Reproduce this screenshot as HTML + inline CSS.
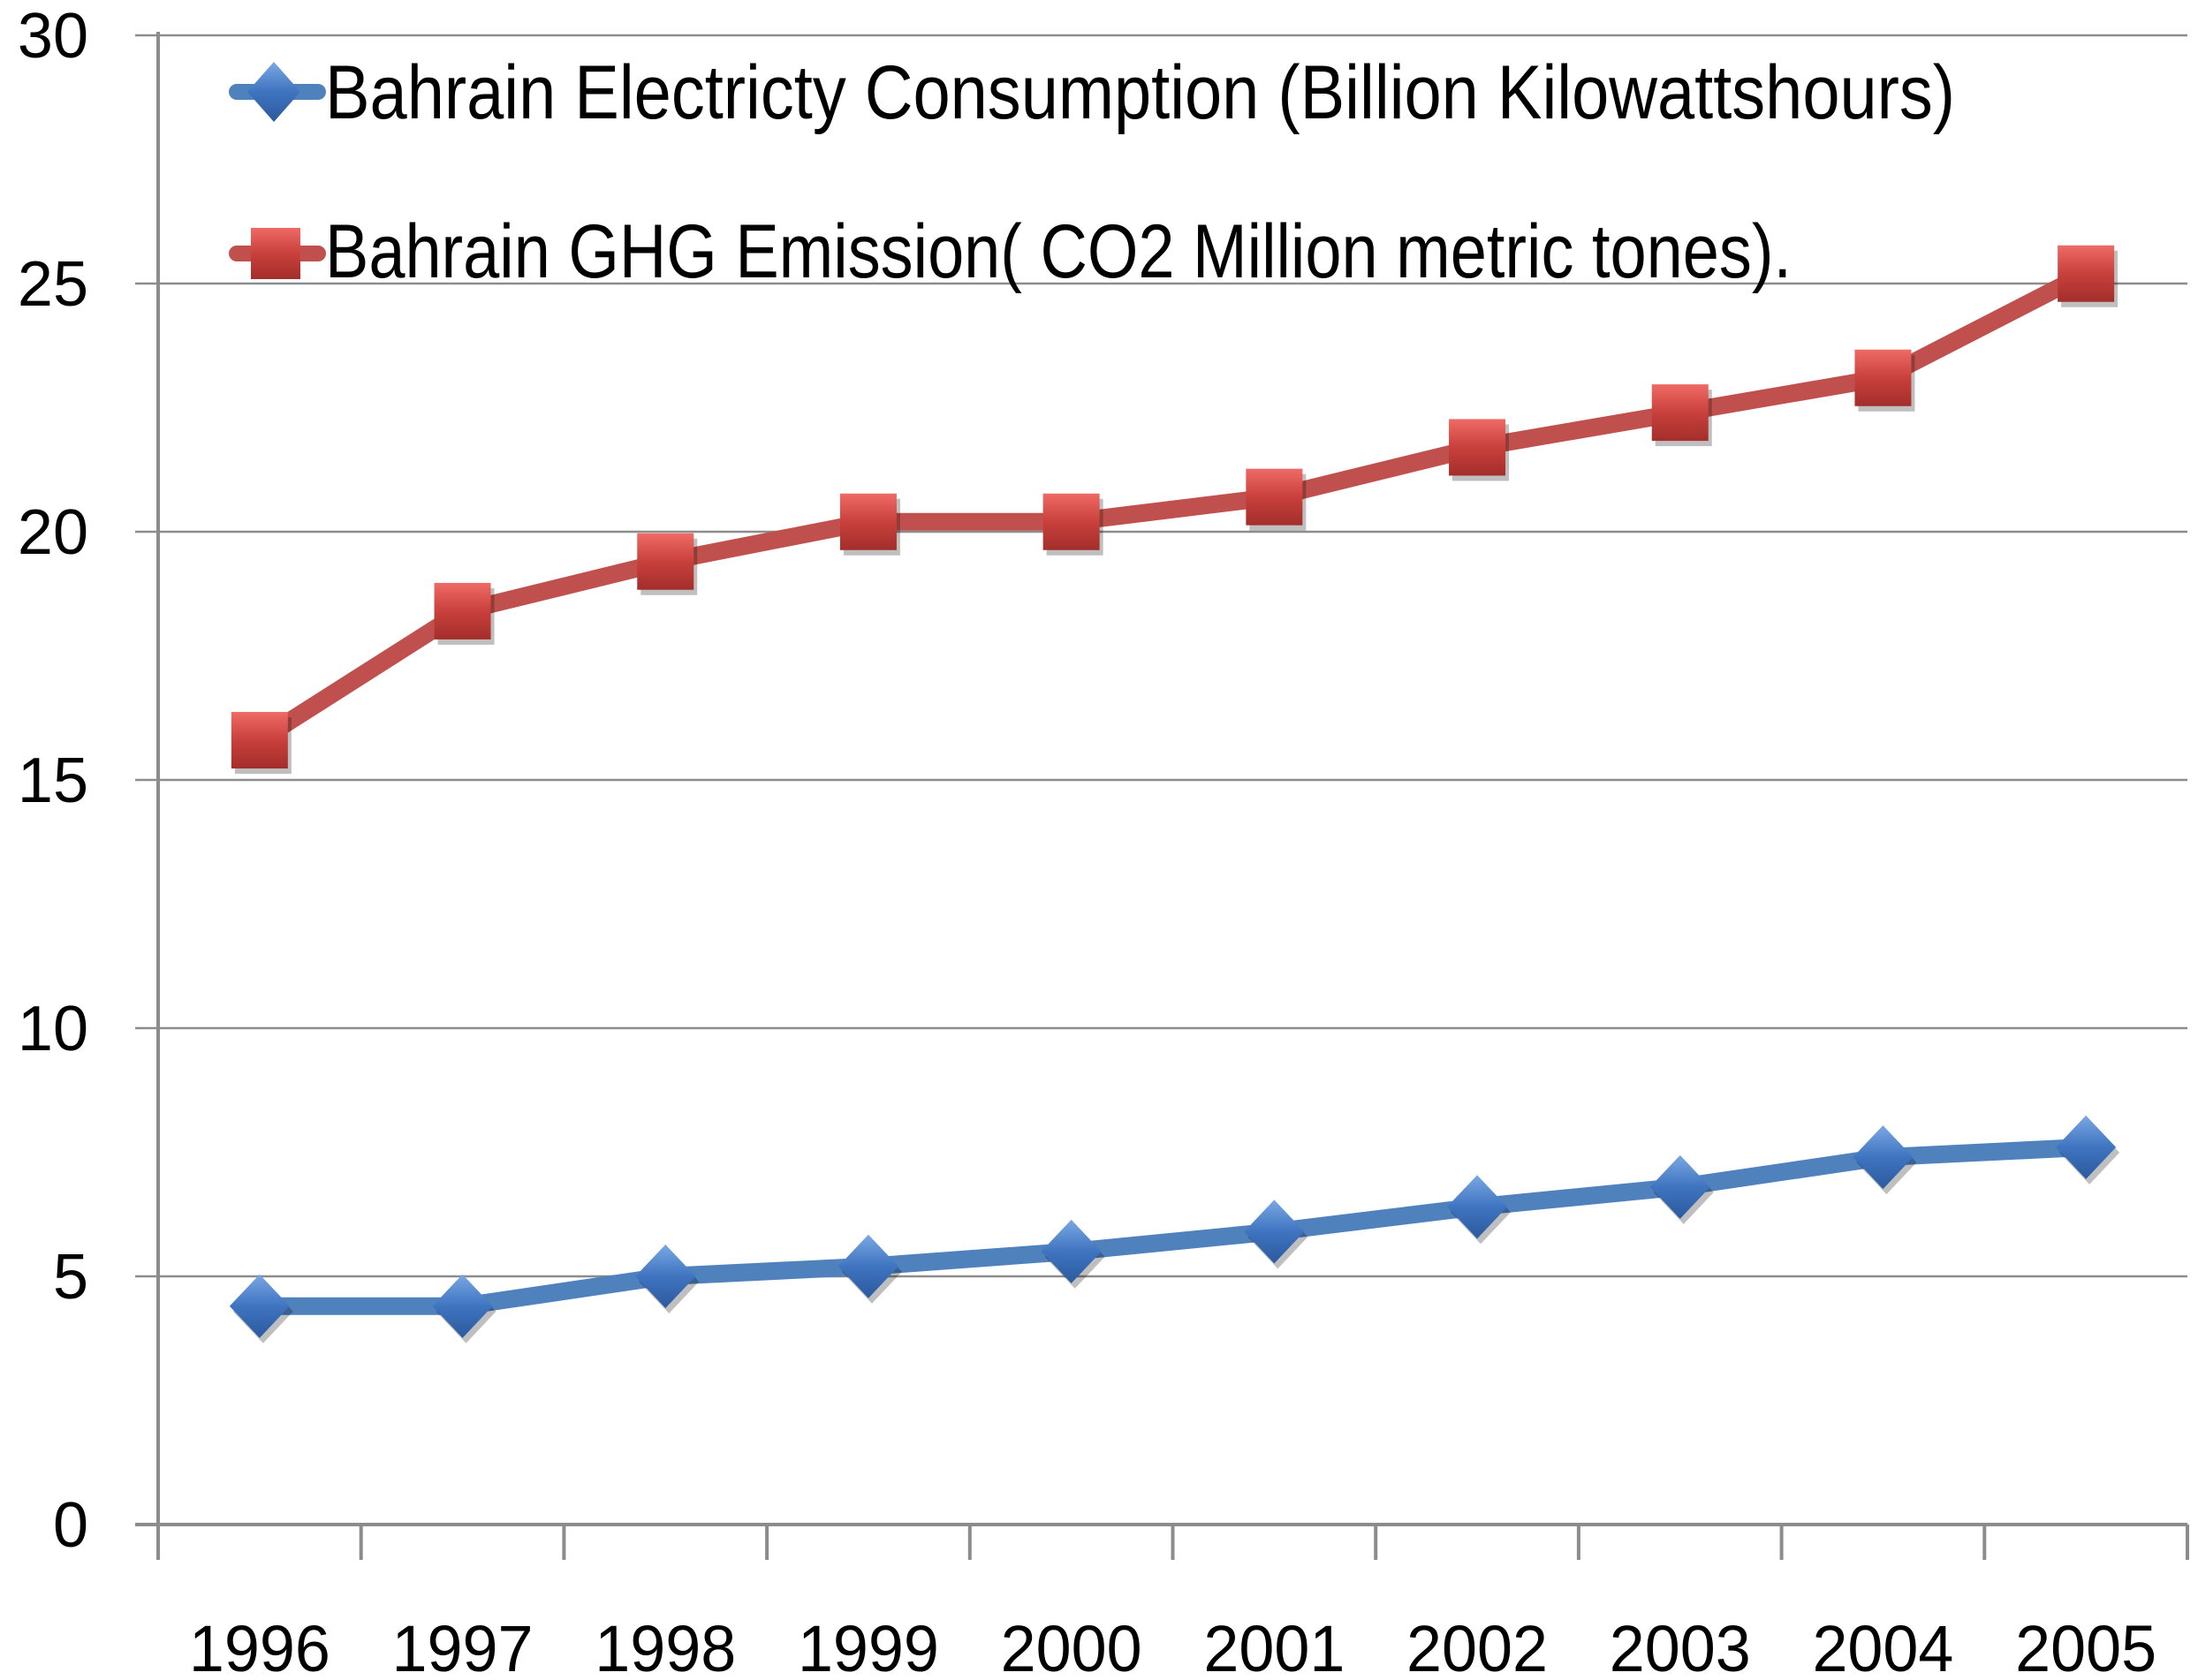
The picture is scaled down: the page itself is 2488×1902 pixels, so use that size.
<!DOCTYPE html>
<html><head><meta charset="utf-8"><style>
html,body{margin:0;padding:0;background:#fff;}
svg{display:block;font-family:"Liberation Sans",sans-serif;}
</style></head><body>
<svg id="chart" width="2488" height="1902" viewBox="0 0 2488 1902" xmlns="http://www.w3.org/2000/svg">
<defs>
<linearGradient id="gRed" x1="0" y1="0" x2="0" y2="1"><stop offset="0" stop-color="#ef6b66"/><stop offset="0.5" stop-color="#c9403c"/><stop offset="1" stop-color="#a32e2b"/></linearGradient>
<linearGradient id="gBlue" x1="0" y1="0" x2="0" y2="1"><stop offset="0" stop-color="#7aa8e4"/><stop offset="0.5" stop-color="#3f74c0"/><stop offset="1" stop-color="#2b5a9e"/></linearGradient>
</defs>
<g id="grid"></g>
<g id="axes"></g>
<g id="series"></g>
<g>
  <g>
    <line x1="268" y1="104" x2="360" y2="104" stroke="#4f81bd" stroke-width="18" stroke-linecap="round"/>
    <path d="M310 70 L340 104 L310 138 L280 104 Z" fill="url(#gBlue)"/>
    <text x="368" y="134" font-size="86" fill="#000" textLength="1845" lengthAdjust="spacingAndGlyphs">Bahrain Electricty Consumption (Billion Kilowattshours)</text>
  </g>
  <g>
    <line x1="268" y1="287" x2="360" y2="287" stroke="#c0504d" stroke-width="18" stroke-linecap="round"/>
    <rect x="284" y="258" width="56" height="58" fill="url(#gRed)"/>
    <text x="368" y="314" font-size="86" fill="#000" textLength="1660" lengthAdjust="spacingAndGlyphs">Bahrain GHG Emission( CO2 Million metric tones).</text>
  </g>
</g>
</svg>
<script>
const categories = ["1996","1997","1998","1999","2000","2001","2002","2003","2004","2005"];
const ghgValues = [15.8,18.4,19.4,20.2,20.2,20.7,21.7,22.4,23.1,25.2];
const elecValues = [4.4,4.4,5.0,5.2,5.5,5.9,6.4,6.8,7.4,7.6];
const yTicks = [0,5,10,15,20,25,30];

const NS = "http://www.w3.org/2000/svg";
const X0 = 179, X1 = 2476, Y0 = 1726, Y1 = 40, YMAX = 30;
const step = (X1 - X0) / categories.length;
function xPos(i){ return X0 + step * (i + 0.5); }
function yPos(v){ return Y0 - (v / YMAX) * (Y0 - Y1); }
function mk(tag, attrs, parent){ const e = document.createElementNS(NS, tag); for (const k in attrs) e.setAttribute(k, attrs[k]); parent.appendChild(e); return e; }

const grid = document.getElementById('grid');
const axes = document.getElementById('axes');
const series = document.getElementById('series');

yTicks.forEach(t => {
  const y = yPos(t);
  const l = mk('line', {x1: X0 - 26, y1: y, x2: X1, y2: y, stroke: '#8c8c8c', 'stroke-width': t === 0 ? 4 : 2.5}, grid);
  
  
  const tx = mk('text', {x: 100, y: y + 25, 'font-size': 72, 'text-anchor': 'end', fill: '#000'}, axes);
  tx.textContent = t;
  
  
});
const ya = mk('line', {x1: X0, y1: Y1 - 4, x2: X0, y2: Y0 + 40, stroke: '#8c8c8c', 'stroke-width': 4}, axes);


for (let i = 0; i <= categories.length; i++) {
  const x = X0 + step * i;
  const tk = mk('line', {x1: x, y1: Y0, x2: x, y2: Y0 + 40, stroke: '#8c8c8c', 'stroke-width': 4}, axes);
  
  
}
categories.forEach((c, i) => {
  const tx = mk('text', {x: xPos(i), y: 1892, 'font-size': 74, 'text-anchor': 'middle', fill: '#000', textLength: 160, lengthAdjust: 'spacingAndGlyphs'}, axes);
  tx.textContent = c;
  
  
});

function drawSeries(vals, color, name, shape){
  const pts = vals.map((v, i) => xPos(i) + ',' + yPos(v)).join(' ');
  const pl = mk('polyline', {points: pts, fill: 'none', stroke: color, 'stroke-width': 20, 'stroke-linejoin': 'round'}, series);
  
  
  vals.forEach((v, i) => {
    const x = xPos(i), y = yPos(v);
    let m;
    if (shape === 'square') {
      mk('rect', {x: x - 28, y: y - 26, width: 64, height: 64, fill: '#000', opacity: 0.25}, series);
      m = mk('rect', {x: x - 32, y: y - 32, width: 64, height: 64, fill: 'url(#gRed)'}, series);
    } else {
      mk('path', {d: `M${x+4} ${y-30} L${x+38} ${y+6} L${x+4} ${y+42} L${x-30} ${y+6} Z`, fill: '#000', opacity: 0.25}, series);
      m = mk('path', {d: `M${x} ${y-36} L${x+34} ${y} L${x} ${y+36} L${x-34} ${y} Z`, fill: 'url(#gBlue)'}, series);
    }
    
    
  });
}
drawSeries(ghgValues, '#c0504d', 'ghg', 'square');
drawSeries(elecValues, '#4f81bd', 'electricity', 'diamond');
</script>
</body></html>
